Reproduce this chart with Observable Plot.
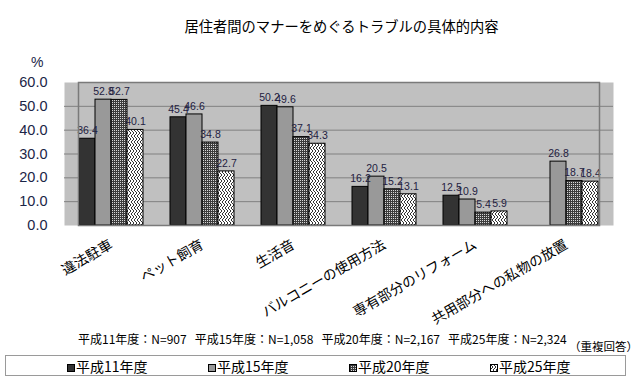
<!DOCTYPE html>
<html>
<head>
<meta charset="utf-8">
<script src="https://cdn.jsdelivr.net/npm/d3@7"></script>
<script src="https://cdn.jsdelivr.net/npm/@observablehq/plot@0.6"></script>
<style>
  html, body { margin: 0; padding: 0; background: #fff; }
  #wrap { position: relative; width: 639px; height: 381px; overflow: hidden; font-family: "Noto Sans CJK JP", sans-serif; }
  .abs { position: absolute; white-space: pre; line-height: 1; }
  .layer { position: absolute; left: 0; top: 40px; }
  #legend { position: absolute; left: 5px; top: 355px; width: 621px; height: 21px; border: 1px solid #9a9a9a; box-sizing: border-box; }
  .item { position: absolute; top: 3px; font-size: 14px; line-height: 14px; color: #000; }
</style>
</head>
<body>
<svg width="0" height="0" style="position:absolute">
  <defs>
    <pattern id="pChecker" patternUnits="userSpaceOnUse" width="2" height="2">
      <rect width="2" height="2" fill="#3c3c3c"></rect>
      <rect width="1" height="1" fill="#d8d8d8"></rect>
    </pattern>
    <pattern id="pZigzag" patternUnits="userSpaceOnUse" width="6" height="6">
      <rect width="6" height="6" fill="#ffffff"></rect>
      <path d="M0,0 L3,3 L0,6 M3,0 L6,3 L3,6" fill="none" stroke="#333" stroke-width="1"></path>
    </pattern>
  </defs>
</svg>
<div id="wrap">
  <div class="abs" style="left:0;width:683px;top:19px;text-align:center;font-size:14.3px;">居住者間のマナーをめぐるトラブルの具体的内容</div>
  <div class="abs" style="left:31px;top:55px;font-size:14px;font-family:'Liberation Sans';color:#1b2547;">%</div>
  <div id="bg" class="layer"></div>
  <div id="chart" class="layer"></div>
  <div class="abs" id="nline" style="left:78px;top:333px;font-size:12px;">平成11年度：N=907   平成15年度：N=1,058   平成20年度：N=2,167   平成25年度：N=2,324</div>
  <div class="abs" style="left:569px;top:341px;font-size:11.5px;">（重複回答）</div>
  <div id="legend"></div>
</div>
<script>
const categories = ["違法駐車", "ペット飼育", "生活音", "バルコニーの使用方法", "専有部分のリフォーム", "共用部分への私物の放置"];
const years = ["平成11年度", "平成15年度", "平成20年度", "平成25年度"];
const h11 = [36.4, 45.4, 50.2, 16.2, 12.5, null];
const h15 = [52.8, 46.6, 49.6, 20.5, 10.9, 26.8];
const h20 = [52.7, 34.8, 37.1, 15.2, 5.4, 18.7];
const h25 = [40.1, 22.7, 34.3, 13.1, 5.9, 18.4];
const yTicks = [0, 10, 20, 30, 40, 50, 60];
const fills = ["#333333", "#999999", "url(#pChecker)", "url(#pZigzag)"];

const series = [h11, h15, h20, h25];
const data = categories.flatMap((c, i) => years.map((y, j) => ({category: c, year: y, value: series[j][i]})))
  .filter(d => d.value != null);

const dims = {width: 639, height: 295, marginLeft: 64, marginRight: 26, marginTop: 42, marginBottom: 110};

// background: plot area fill, gridlines and y axis spanning the whole frame
const bg = Plot.plot({
  ...dims,
  style: {background: "transparent"},
  x: {axis: null},
  y: {domain: [0, 60], label: null},
  marks: [
    Plot.frame({fill: "#c0c0c0", stroke: null}),
    Plot.ruleY(yTicks.slice(1, -1), {stroke: "#808080", strokeWidth: 1}),
    Plot.axisY({ticks: yTicks, tickFormat: d => d.toFixed(1), tickSize: 0, tickPadding: 17,
      fontSize: 14.5, fontFamily: "Liberation Sans", color: "#1b2547", label: null})
  ]
});
document.getElementById("bg").appendChild(bg);

const chart = Plot.plot({
  ...dims,
  style: {background: "transparent"},
  fx: {domain: categories, paddingInner: 0.28, paddingOuter: 0.14, label: null},
  x: {domain: years, padding: 0, axis: null},
  y: {domain: [0, 60], axis: null},
  color: {domain: years, range: fills},
  marks: [
    Plot.barY(data, {fx: "category", x: "year", y: "value", fill: "year", stroke: "#000", strokeWidth: 1}),
    Plot.text(data, {fx: "category", x: "year", y: "value", text: d => d.value.toFixed(1), dy: -8,
      fontSize: 10.5, fontFamily: "Liberation Sans", fill: "#1f2040"}),
    Plot.frame({facet: "super", stroke: "#7a7a7a", strokeWidth: 1.5}),
    Plot.axisFx({anchor: "bottom", tickRotate: -30, tickSize: 0, tickPadding: 18, fontSize: 14,
      fontFamily: "Noto Sans CJK JP", color: "#000", label: null})
  ]
});
document.getElementById("chart").appendChild(chart);

const legend = document.getElementById("legend");
years.forEach((y, j) => {
  const it = document.createElement("div");
  it.className = "item";
  it.style.left = (61 + j * 141) + "px";
  const sw = document.createElementNS("http://www.w3.org/2000/svg", "svg");
  sw.setAttribute("width", 8); sw.setAttribute("height", 8);
  sw.style.marginRight = "1px";
  const r = document.createElementNS("http://www.w3.org/2000/svg", "rect");
  r.setAttribute("x", 0.5); r.setAttribute("y", 0.5); r.setAttribute("width", 7); r.setAttribute("height", 7);
  r.setAttribute("fill", fills[j]); r.setAttribute("stroke", "#000");
  sw.appendChild(r);
  it.appendChild(sw);
  it.appendChild(document.createTextNode(y));
  legend.appendChild(it);
});
</script>
</body>
</html>
